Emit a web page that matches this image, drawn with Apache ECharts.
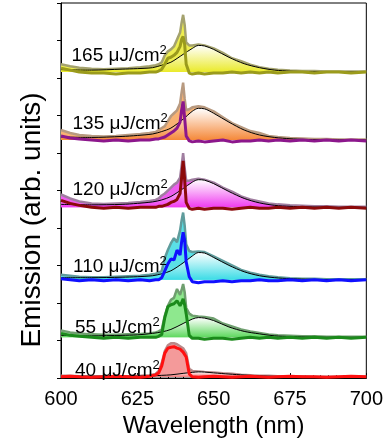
<!DOCTYPE html>
<html>
<head>
<meta charset="utf-8">
<script src="https://cdn.jsdelivr.net/npm/echarts/dist/echarts.min.js"></script>
<style>
  html, body { margin: 0; padding: 0; background: #fff; }
  #chart { width: 386px; height: 443px; }
</style>
</head>
<body>
<div id="chart"></div>
<script>
// wavelength grid of the measured spectra (nm)
const wl = [600, 603, 606, 610, 614, 618, 622, 626, 629, 631, 632, 633, 634, 635, 636, 637, 638, 639, 639.5, 640,
  640.5, 641, 642, 643, 645, 647, 650, 653, 656, 659, 662, 665, 668, 671, 675, 679, 683, 687, 691, 695, 700];
// wavelength grid of the broad fitted band (nm)
const fitWl = [600, 610, 620, 625, 630, 633, 636, 640, 643, 645, 647, 650, 655, 660, 665, 670, 675, 680, 690, 700];

// fluences, bottom to top, and the vertical offset of each trace
const fluences = ['40', '55', '110', '120', '135', '165'];
const offsets = [1.3, 41.3, 99.7, 173, 241.3, 310];

// total emission (filled)
const total40 = [1, 1, 0.5, 0.5, 0.5, 0.5, 0.5, 1, 1.5, 3, 6, 14, 26, 32, 34, 34, 33, 31, 30, 29,
  27, 24, 8, 6, 5.5, 5, 4.5, 3.5, 3, 2, 1.5, 1, 1, 0.5, 0.5, 0.5, 0, 0, 0, 0, 0];
const total55 = [7, 5, 4, 3, 2.5, 2.5, 3, 3.5, 4, 5, 6, 8, 22, 32, 38, 40, 49, 43, 48, 54,
  46, 30, 24, 22, 21, 20.5, 19, 14, 11, 8, 6, 4.5, 3, 2, 1.5, 1, 1, 0.5, 0.5, 0.5, 0.5];
const total110 = [5, 4, 3, 2.5, 2.5, 3, 3.5, 4, 5, 6, 7, 9, 22, 30, 37, 42, 38, 50, 60, 68,
  55, 36, 29, 28, 28.5, 28, 23.5, 19, 14.5, 10, 7, 5, 3.5, 2.5, 1.5, 1, 1, 0.5, 0.5, 0.5, 0.5];
const total120 = [13, 9, 6, 4, 3.5, 4, 4.5, 5.5, 6.5, 7.5, 9, 12, 14, 17, 20, 23, 25, 30, 42, 55,
  40, 27, 27, 28, 29, 28, 25, 20, 16, 11, 8, 6, 4, 3, 2, 1.5, 1, 1, 0.5, 0.5, 0.5];
const total135 = [10, 7, 5, 4, 3.5, 4, 5, 6, 7, 8, 10, 12, 14, 19, 24, 27, 30, 37, 48, 58,
  42, 30, 31, 33, 34, 33, 29, 23, 17, 13, 9, 7, 4, 3, 2, 1.5, 1, 1, 0.5, 0.5, 0.5];
const total165 = [8, 6, 4.5, 3.5, 3, 3.5, 4, 5, 6, 7, 8, 10, 17, 21, 23, 26, 33, 40, 50, 58,
  48, 30, 27, 27, 28, 27, 24, 19.5, 14, 11, 7.5, 5, 3.5, 2.5, 1.5, 1, 1, 0.5, 0.5, 0.5, 0.5];

// narrow (lasing) component, thick line
const narrow40 = [0, 0.5, 0, -0.5, 0, 0.5, 0, -0.5, 0.5, 2, 4, 11, 24, 29, 30, 30.5, 29, 28, 27, 25,
  23, 20, 3, 0, -0.5, 0, 0.5, 0, -0.5, 0, 0.5, 0, -0.5, 0, 0.5, 0, 0, -0.5, 0, 0.5, 0];
const narrow55 = [4, 2, 1, 0, -1, 0, -1, 0, 0, 0, 1, 3, 20, 31, 33, 34, 37, 32, 35, 39,
  33, 24, 2, -1, -1, -2, -1, -1, -2, -1, 0, -1, 0, -1, 0, -1, 0, -1, 0, -1, 0];
const narrow110 = [1, 0, -1, 0, -1, 0, -1, 0, -1, 0, 0, 2, 9, 16, 21, 20, 30, 25, 38, 48,
  40, 18, 3, -2, -3, -2, -2, -1, -2, -1, -1, 0, -1, -1, 0, -1, 0, -1, 0, -1, 0];
const narrow120 = [7, 4, 2, 0, -1, 0, -1, 0, 0, 0, 1, 1, 2, 3, 5, 6, 8, 14, 30, 47,
  28, 5, -1, -2, -1, -2, -1, -1, -2, -1, 0, -1, -1, 0, -1, 0, -1, 0, -1, 0, -1];
const narrow135 = [4, 2, 1, 0, -1, 0, -1, 0, 0, 1, 1, 2, 3, 5, 7, 9, 12, 18, 30, 39,
  22, 4, -1, -2, -1, -2, -1, 0, -2, -1, -1, 0, -1, 0, -1, 0, -1, 0, -1, 0, -1];
const narrow165 = [4, 2, 0, -1, -1, -2, -1, -1, 0, 0, 1, 3, 8, 14, 15, 17, 20, 26, 33, 36,
  28, 8, -1, -2, -1, -2, -1, -1, 0, -1, 0, -1, 0, -1, 0, 0, -1, 0, 0, -1, 0];

// broad fitted band, thin black line
const fit40 = [0.5, 0.5, 0.5, 0.8, 1, 1.5, 2, 3.5, 4.5, 5, 4.8, 4, 2.8, 1.8, 1, 0.5, 0.3, 0, 0, 0];
const fit55 = [2, 1.5, 2, 2.5, 4, 5.5, 8, 14, 18.5, 20, 19.5, 17, 10.5, 6, 3.5, 1.5, 0.8, 0.3, 0, 0];
const fit110 = [2, 2, 2.5, 3, 4, 6, 9, 17, 24, 27.5, 27, 22.5, 14.5, 8, 4, 2, 1, 0.5, 0, 0];
const fit120 = [3, 2.5, 3, 4, 5.5, 7.5, 11, 19, 25.5, 28, 27.5, 24, 16, 9, 4.5, 2, 1, 0.5, 0, 0];
const fit135 = [3, 2.5, 3.5, 4.5, 6, 8.5, 12, 21, 29, 32, 31.5, 27, 18, 10, 5, 2.5, 1.2, 0.5, 0, 0];
const fit165 = [2.5, 2, 3, 3.5, 4.5, 7, 10, 18, 24, 27, 26.5, 23, 15, 8.5, 4.5, 2, 1, 0.5, 0, 0];

const totals = [total40, total55, total110, total120, total135, total165];
const narrows = [narrow40, narrow55, narrow110, narrow120, narrow135, narrow165];
const fits = [fit40, fit55, fit110, fit120, fit135, fit165];

// colours per trace: fill, fit gradient, outline, narrow line
const palette = [
  { fill: '#f49a9a', grad: '#f27070', edge: '#b88a8a', line: '#ff1010' },
  { fill: '#8ee88e', grad: '#5ed85e', edge: '#6f9f6f', line: '#1b8a1b' },
  { fill: '#5ae0e6', grad: '#3cdce6', edge: '#5f9c9c', line: '#1010ff' },
  { fill: '#ee5cee', grad: '#f03cf0', edge: '#a07ea0', line: '#8b0a0a' },
  { fill: '#f8b273', grad: '#f5893a', edge: '#b89a80', line: '#8c178c' },
  { fill: '#eded50', grad: '#eaea2a', edge: '#a4a26e', line: '#9b9b1c' }
];

// label placement (px): left edge and digit centre
const labelPlace = [[75, 371], [75, 327.5], [73, 267], [72.5, 190], [72.5, 124], [71.5, 55.5]];

const FONT = '"Liberation Sans", Arial, sans-serif';

const pts = (xs, ys, off) => xs.map((x, i) => [x, ys[i] + off]);

const series = [];
fluences.forEach((f, k) => {
  const off = offsets[k];
  const c = palette[k];
  series.push({
    type: 'line', data: pts(wl, totals[k], off), symbol: 'none', z: 2,
    lineStyle: { color: c.edge, width: 2.5 },
    areaStyle: { color: c.fill, opacity: 1, origin: off }
  });
  series.push({
    type: 'line', data: pts(fitWl, fits[k], off), symbol: 'none', smooth: 0.3, z: 3,
    lineStyle: { color: '#000', width: 1 },
    areaStyle: {
      opacity: 1, origin: off,
      color: new echarts.graphic.LinearGradient(0, 0, 0, 1, [
        { offset: 0, color: '#ffffff' },
        { offset: 1, color: c.grad }
      ])
    }
  });
  series.push({
    type: 'line', data: pts(wl, narrows[k], off), symbol: 'none', z: 4,
    lineStyle: { color: c.line, width: 3 }
  });
});

const graphic = fluences.map((f, k) => ({
  type: 'text',
  left: labelPlace[k][0],
  top: labelPlace[k][1] - 12,
  z: 10,
  style: {
    text: '{a|' + f + ' μJ/cm}{b|2}',
    fill: '#000',
    rich: {
      a: { fontSize: 19, lineHeight: 24, fontFamily: FONT, fill: '#000' },
      b: { fontSize: 13, verticalAlign: 'top', fontFamily: FONT, fill: '#000' }
    }
  }
}));

// y axis title, placed by hand (it sits below the axis middle in the original)
graphic.push({
  type: 'text',
  x: 32, y: 220,
  rotation: Math.PI / 2,
  z: 10,
  style: {
    text: 'Emission (arb. units)',
    fontSize: 28, fontFamily: FONT, fill: '#000',
    align: 'center', verticalAlign: 'middle'
  }
});

const chart = echarts.init(document.getElementById('chart'));
chart.setOption({
  animation: false,
  backgroundColor: '#fff',
  textStyle: { fontFamily: FONT },
  grid: { left: 61, right: 12, top: 3, bottom: 60, show: true, borderColor: '#000', borderWidth: 1 },
  xAxis: {
    type: 'value', min: 600, max: 700, interval: 25,
    name: 'Wavelength (nm)', nameLocation: 'middle', nameGap: 32,
    nameTextStyle: { fontSize: 24, color: '#000', fontFamily: FONT },
    axisLine: { lineStyle: { color: '#000', width: 1 } },
    axisTick: { inside: true, length: 5, lineStyle: { color: '#000' } },
    minorTick: { show: true, splitNumber: 10, length: 3, lineStyle: { color: '#000' } },
    axisLabel: { color: '#000', fontSize: 20, margin: 11, fontFamily: FONT },
    splitLine: { show: false }
  },
  yAxis: {
    type: 'value', min: 0, max: 380, interval: 38,
    axisLine: { show: true, lineStyle: { color: '#000', width: 1 } },
    axisTick: { show: true, inside: false, length: 4, lineStyle: { color: '#000' } },
    axisLabel: { show: false },
    splitLine: { show: false }
  },
  series: series,
  graphic: graphic
});
</script>
</body>
</html>
